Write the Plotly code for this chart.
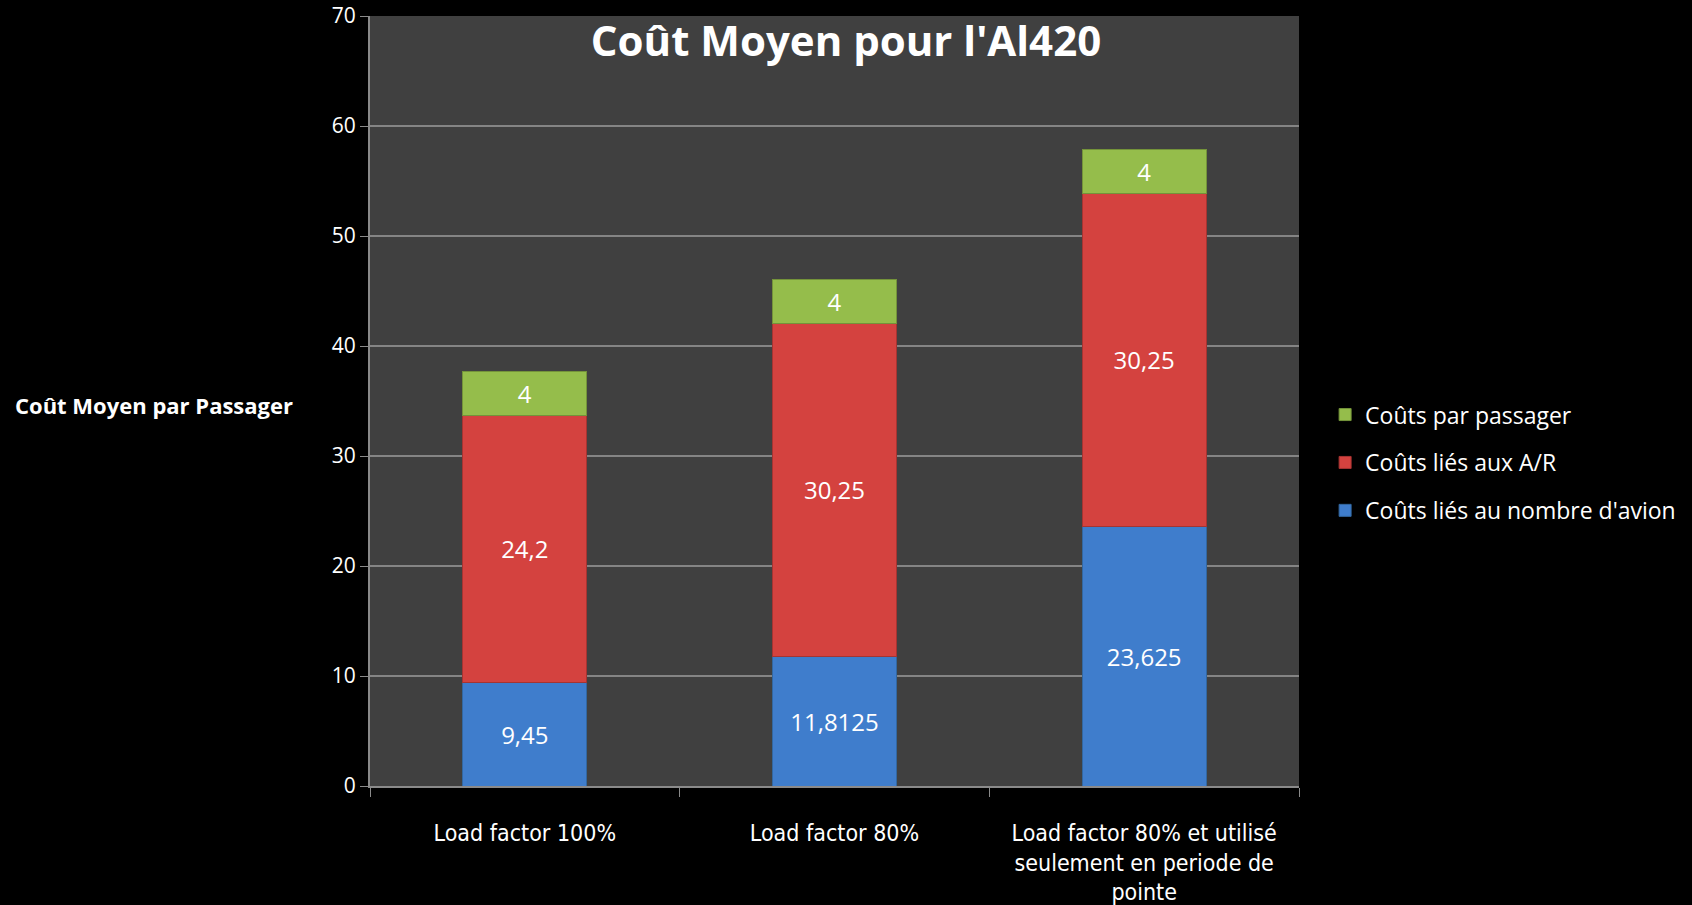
import plotly.graph_objects as go

# ─── données ──────────────────────────────────────────────────────────────────
categories = [
    "Load factor 100%",
    "Load factor 80%",
    "Load factor 80% et utilisé<br>seulement en periode de<br>pointe",
]
couts_avion = [9.45, 11.8125, 23.625]
couts_ar = [24.2, 30.25, 30.25]
couts_passager = [4, 4, 4]

series = [
    ("Coûts liés au nombre d'avion", couts_avion, "#3f7dcc", "#33679f"),
    ("Coûts liés aux A/R", couts_ar, "#d4423f", "#a53432"),
    ("Coûts par passager", couts_passager, "#95bd4b", "#74933a"),
]

FONT = "Open Sans, Noto Sans, sans-serif"
NARROW = "Liberation Sans Narrow, DejaVu Sans Condensed, Open Sans, sans-serif"


def fr(v):
    # virgule décimale comme dans l'original
    return f"{v:g}".replace(".", ",")


fig = go.Figure()
for i, (name, vals, col, edge) in enumerate(series):
    fig.add_trace(go.Bar(
        name=name,
        x=categories, y=vals,
        text=[fr(v) for v in vals],
        textposition="inside",
        insidetextanchor="middle",
        textangle=0,
        textfont=dict(color="white", size=24, family=FONT),
        marker=dict(color=col, line=dict(color=edge, width=1)),
        legendgroup=str(i),
        legendrank=3 - i,
    ))

fig.update_layout(
    barmode="stack",
    bargap=0.6,
    paper_bgcolor="black",
    plot_bgcolor="#404040",
    width=1692, height=905,
    margin=dict(l=370, r=392, t=16, b=119),
    font=dict(family=FONT, color="white", size=21),
    title=dict(
        text="<b>Coût Moyen pour l'Al420</b>",
        x=0.5, xanchor="center", xref="container",
        y=1 - 41 / 905, yanchor="middle",
        font=dict(size=42, color="white", family=FONT),
    ),
    legend=dict(
        x=1.027, xanchor="left", y=0.42, yanchor="middle",
        traceorder="grouped",
        tracegroupgap=15,
        font=dict(size=23, color="white", family=FONT),
        bgcolor="rgba(0,0,0,0)",
    ),
    uniformtext=dict(minsize=10, mode="show"),
)

fig.add_annotation(
    xref="paper", yref="paper",
    x=-0.384, y=0.495, xanchor="left", yanchor="middle",
    text="<b>Coût Moyen par Passager</b>",
    showarrow=False,
    font=dict(size=22, color="white", family=FONT),
)

fig.update_yaxes(
    range=[0, 70], dtick=10,
    showgrid=True, gridcolor="#858585", gridwidth=1.5,
    showline=True, linecolor="#8a8a8a", linewidth=2,
    ticks="outside", ticklen=8, tickcolor="#8a8a8a",
    tickfont=dict(size=21, color="white"),
    zeroline=False,
    automargin=False,
)
fig.update_xaxes(
    showline=True, linecolor="#8a8a8a", linewidth=2,
    ticks="outside", ticklen=9, tickcolor="#8a8a8a",
    tickson="boundaries",
    tickfont=dict(size=23, color="white", family=NARROW),
    ticklabelstandoff=25,
    tickangle=0,
    automargin=False,
)

fig.write_html(
    "out.html",
    config={"displayModeBar": False},
    post_script="document.body.style.margin='0';document.body.style.background='black';",
)
